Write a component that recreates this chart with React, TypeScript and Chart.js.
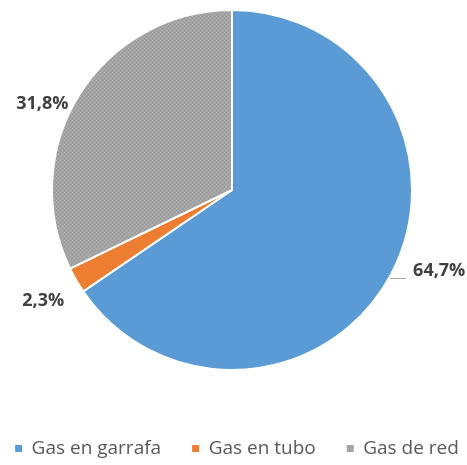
import React, { useEffect, useRef } from "react";
import { Chart, registerables } from "chart.js";

Chart.register(...registerables);

const categories = ["Gas en garrafa", "Gas en tubo", "Gas de red"];
const values = [64.7, 2.3, 31.8];
const valueLabels = ["64,7%", "2,3%", "31,8%"];

const colors = ["#5B9BD5", "#ED7D31", "#A5A5A5"];

function makeGrayPattern(): CanvasPattern | string {
  const c = document.createElement("canvas");
  c.width = 4;
  c.height = 4;
  const ctx = c.getContext("2d");
  if (!ctx) return "#A5A5A5";
  ctx.fillStyle = "#A3A3A3";
  ctx.fillRect(0, 0, 4, 4);
  ctx.fillStyle = "#B4B4B4";
  ctx.fillRect(0, 0, 1, 1);
  ctx.fillRect(2, 2, 1, 1);
  ctx.fillStyle = "#999999";
  ctx.fillRect(2, 0, 1, 1);
  ctx.fillRect(0, 2, 1, 1);
  const p = ctx.createPattern(c, "repeat");
  return p || "#A5A5A5";
}

const EXTRA = 150;

const labelPlugin = {
  id: "outsideLabels",
  beforeLayout(chart: any) {
    const lg = chart.legend;
    if (lg && !lg._oneRowPatched) {
      const origFit = lg.fit;
      lg.fit = function () {
        const mw = this.maxWidth;
        this.maxWidth = mw + EXTRA;
        origFit.call(this);
        this.maxWidth = mw;
        this.width = Math.min(this.width, mw);
      };
      const origDraw = lg.draw;
      lg.draw = function () {
        this.left -= EXTRA;
        this.right += EXTRA;
        origDraw.call(this);
        this.left += EXTRA;
        this.right -= EXTRA;
      };
      lg._oneRowPatched = true;
    }
  },
  afterLayout(chart: any, _args: any, opts: any) {
    const lg = chart.legend;
    if (lg) {
      lg.top += opts.legendShift;
      lg.bottom += opts.legendShift;
      lg.left += opts.legendShiftX;
      lg.right += opts.legendShiftX;
    }
  },
  afterDatasetsDraw(chart: any, _args: any, opts: any) {
    const ctx = chart.ctx;
    const meta = chart.getDatasetMeta(0);
    ctx.save();
    ctx.font = "bold 18px 'Open Sans', sans-serif";
    ctx.fillStyle = "#404040";
    ctx.textBaseline = "middle";
    meta.data.forEach((arc: any, i: number) => {
      const p = arc.getProps(["x", "y", "startAngle", "endAngle", "outerRadius"], true);
      const mid = (p.startAngle + p.endAngle) / 2;
      const ex = p.x + Math.cos(mid) * p.outerRadius;
      const ey = p.y + Math.sin(mid) * p.outerRadius;
      const off = opts.offsets[i];
      const tx = ex + off[0];
      const ty = ey + off[1];
      const right = Math.cos(mid) > 0;
      ctx.textAlign = right ? "left" : "right";
      ctx.fillText(valueLabels[i], tx, ty);
      if (opts.leaders[i]) {
        ctx.strokeStyle = "#A6A6A6";
        ctx.lineWidth = 1;
        ctx.beginPath();
        ctx.moveTo(ex - 1, Math.round(ty + 7) + 0.5);
        ctx.lineTo(tx - 7, Math.round(ty + 7) + 0.5);
        ctx.stroke();
      }
    });
    ctx.restore();
  },
};

export default function App() {
  const ref = useRef<HTMLCanvasElement>(null);
  useEffect(() => {
    document.body.style.margin = "0";
    if (!ref.current) return;
    const bg = [colors[0], colors[1], makeGrayPattern()];
    const chart = new Chart(ref.current, {
      type: "pie",
      data: {
        labels: categories,
        datasets: [
          {
            data: values,
            backgroundColor: bg as any,
            borderColor: "#FFFFFF",
            borderWidth: 2,
          },
        ],
      },
      options: {
        animation: false,
        responsive: false,
        maintainAspectRatio: false,
        layout: { padding: { top: 9, bottom: 34, left: 0, right: 3 } },
        plugins: {
          tooltip: { enabled: false },
          legend: {
            position: "bottom",
            labels: {
              boxWidth: 7,
              boxHeight: 7,
              padding: 31,
              color: "#595959",
              font: { family: "'Open Sans', sans-serif", size: 19 },
              generateLabels: () =>
                categories.map((t, i) => ({
                  text: t,
                  fillStyle: colors[i],
                  strokeStyle: colors[i],
                  lineWidth: 0,
                  hidden: false,
                  index: i,
                  datasetIndex: 0,
                  fontColor: "#595959",
                })),
            },
          },
          outsideLabels: {
            offsets: [
              [22, -3],
              [-12, 21],
              [-11, 9],
            ],
            leaders: [true, false, false],
            legendShift: 37,
            legendShiftX: 5,
          },
        } as any,
      },
      plugins: [labelPlugin],
    });
    return () => chart.destroy();
  }, []);
  return (
    <div style={{ width: 467, height: 465, background: "#fff" }}>
      <canvas ref={ref} width={467} height={465} style={{ display: "block" }} />
    </div>
  );
}
